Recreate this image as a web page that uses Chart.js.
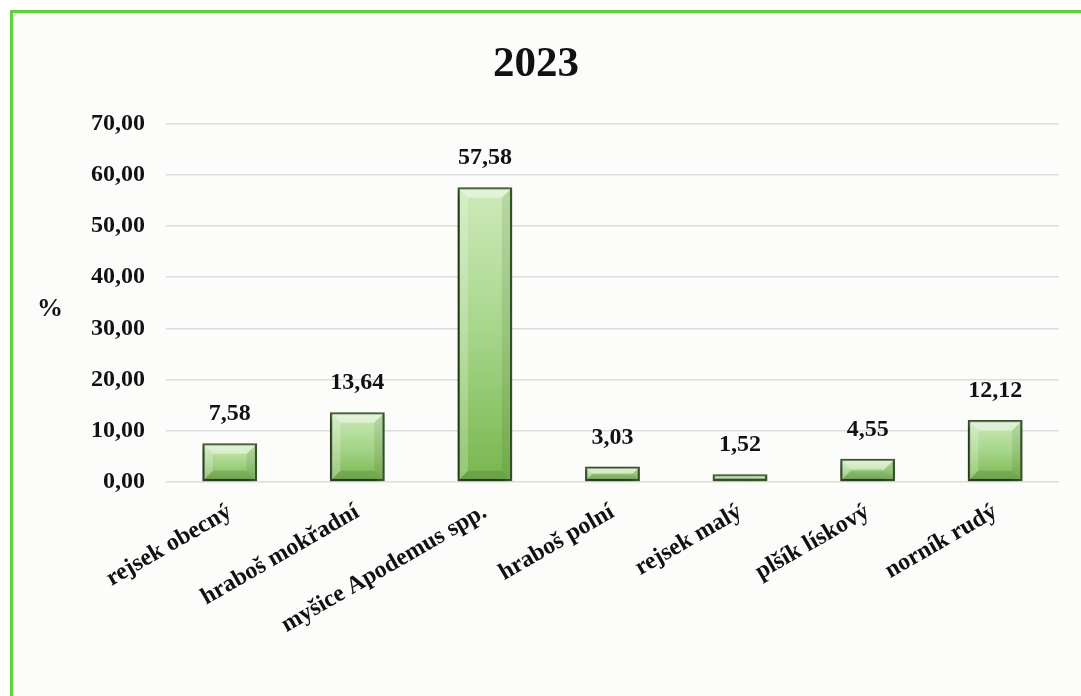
<!DOCTYPE html>
<html>
<head>
<meta charset="utf-8">
<script src="https://cdn.jsdelivr.net/npm/chart.js@4"></script>
<style>
  html, body { margin: 0; padding: 0; background: #ffffff; }
  #frame {
    position: absolute; left: 10px; top: 10px;
    width: 1068px; height: 683px;
    border-top: 3px solid #5fd33a; border-left: 3px solid #5fd33a;
    background: #fcfdfb;
  }
  canvas { display: block; }
</style>
</head>
<body>
<div id="frame"><canvas id="chart" width="1068" height="683"></canvas></div>
<script>
const title = "2023";
const categories = [
  "rejsek obecný",
  "hraboš mokřadní",
  "myšice Apodemus spp.",
  "hraboš polní",
  "rejsek malý",
  "plšík lískový",
  "norník rudý",
];
const shares = [7.58, 13.64, 57.58, 3.03, 1.52, 4.55, 12.12];
const yTicks = [0, 10, 20, 30, 40, 50, 60, 70];

const fmt = (v) => v.toFixed(2).replace(".", ",");
const serif = "'Liberation Serif', 'Times New Roman', serif";

function barFill(context) {
  const chart = context.chart;
  const y = chart.scales.y;
  if (!y || context.dataIndex === undefined) return "#8cc36a";
  const top = y.getPixelForValue(context.raw);
  const base = y.getPixelForValue(0);
  if (!isFinite(top) || !isFinite(base)) return "#8cc36a";
  const g = chart.ctx.createLinearGradient(0, top, 0, base);
  g.addColorStop(0, "#cdeab9");
  g.addColorStop(0.5, "#a6d58a");
  g.addColorStop(1, "#78b64d");
  return g;
}

// shadow behind the bars
const shadowPlugin = {
  id: "barShadow",
  beforeDatasetsDraw(chart) {
    const ctx = chart.ctx;
    ctx.save();
    ctx.shadowColor = "rgba(0,0,0,0.45)";
    ctx.shadowBlur = 8;
    ctx.shadowOffsetX = -4;
    ctx.shadowOffsetY = 3;
  },
  afterDatasetsDraw(chart) {
    chart.ctx.restore();
  },
};

// bevel highlights on each bar, value labels and the "%" label
const labelPlugin = {
  id: "valueLabels",
  afterDatasetsDraw(chart) {
    const ctx = chart.ctx;
    const meta = chart.getDatasetMeta(0);
    ctx.save();
    meta.data.forEach((bar) => {
      const l = bar.x - bar.width / 2 + 1.5, r = bar.x + bar.width / 2 - 1.5;
      const t = bar.y + 1.5, b = bar.base - 1.5;
      const d = Math.min(9, (b - t) / 2);
      const poly = (pts, c) => {
        ctx.beginPath();
        ctx.moveTo(pts[0][0], pts[0][1]);
        pts.slice(1).forEach((p) => ctx.lineTo(p[0], p[1]));
        ctx.closePath();
        ctx.fillStyle = c;
        ctx.fill();
      };
      poly([[l, t], [r, t], [r - d, t + d], [l + d, t + d]], "rgba(255,255,255,0.45)");
      poly([[l, t], [l + d, t + d], [l + d, b - d], [l, b]], "rgba(255,255,255,0.22)");
      poly([[r, t], [r, b], [r - d, b - d], [r - d, t + d]], "rgba(40,80,20,0.12)");
      poly([[l, b], [l + d, b - d], [r - d, b - d], [r, b]], "rgba(40,80,20,0.18)");
    });
    ctx.restore();
  },
  afterDraw(chart) {
    const ctx = chart.ctx;
    ctx.save();
    ctx.font = "bold 24px " + serif;
    ctx.fillStyle = "#111";
    ctx.textAlign = "center";
    ctx.textBaseline = "middle";
    const meta = chart.getDatasetMeta(0);
    meta.data.forEach((bar, i) => {
      ctx.fillText(fmt(shares[i]), bar.x, bar.y - 29);
    });
    ctx.font = "bold 26px " + serif;
    ctx.fillText("%", 37, 296);
    ctx.restore();
  },
};

new Chart(document.getElementById("chart"), {
  type: "bar",
  data: {
    labels: categories,
    datasets: [{
      data: shares,
      backgroundColor: barFill,
      borderColor: "#365826",
      borderWidth: 2.5,
      borderSkipped: false,
      barPercentage: 0.43,
      categoryPercentage: 1,
    }],
  },
  options: {
    responsive: false,
    animation: false,
    layout: { padding: { left: 0, right: 22, top: 0, bottom: 0 } },
    plugins: {
      legend: { display: false },
      tooltip: { enabled: false },
      title: {
        display: true,
        text: title,
        color: "#111",
        font: { family: serif, size: 43, weight: "bold" },
        padding: { top: 26, bottom: 33 },
      },
    },
    scales: {
      x: {
        grid: { display: false },
        border: { display: false },
        ticks: {
          color: "#111",
          font: { family: serif, size: 24, weight: "bold" },
          minRotation: 30,
          maxRotation: 30,
          padding: 8,
        },
        afterFit(scale) { scale.height = 214; },
      },
      y: {
        min: 0,
        max: 70,
        border: { display: false },
        grid: { color: "#dcdcdc", lineWidth: 1.5, drawTicks: false },
        afterBuildTicks(scale) { scale.ticks = yTicks.map((v) => ({ value: v })); },
        ticks: {
          color: "#111",
          padding: 21,
          font: { family: serif, size: 24, weight: "bold" },
          callback: (v) => fmt(v),
        },
        afterFit(scale) { scale.width = 153; },
      },
    },
  },
  plugins: [shadowPlugin, labelPlugin],
});
</script>
</body>
</html>
